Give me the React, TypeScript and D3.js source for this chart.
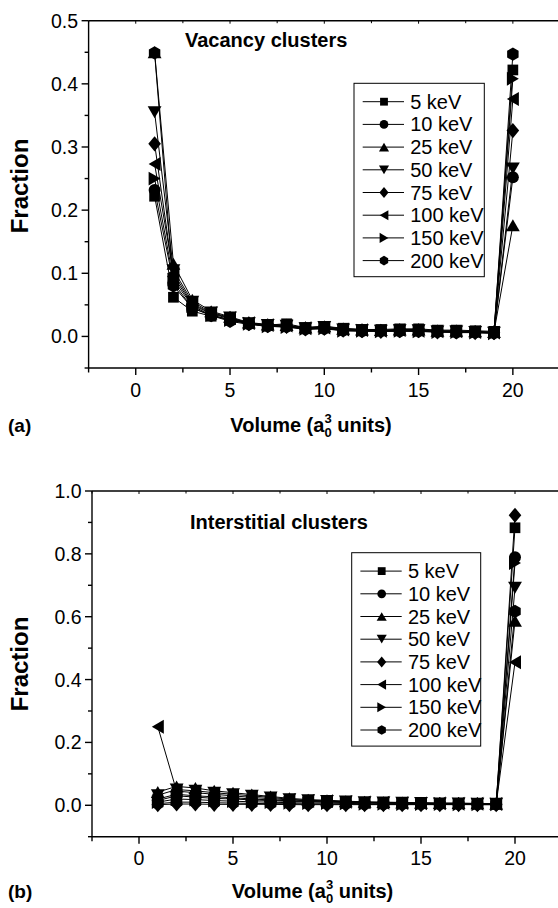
import React from "react";
import * as d3 from "d3";

const volumes = d3.range(1, 21);
const seriesNames = ["5 keV", "10 keV", "25 keV", "50 keV", "75 keV", "100 keV", "150 keV", "200 keV"];
const markerShapes = ["square", "circle", "triUp", "triDown", "diamond", "triLeft", "triRight", "hexagon"];

const vac5 = [0.222, 0.062, 0.040, 0.032, 0.027, 0.021, 0.018, 0.020, 0.014, 0.016, 0.013, 0.011, 0.011, 0.012, 0.012, 0.010, 0.010, 0.009, 0.008, 0.422];
const vac10 = [0.232, 0.085, 0.045, 0.034, 0.026, 0.020, 0.017, 0.016, 0.013, 0.014, 0.010, 0.010, 0.009, 0.010, 0.010, 0.008, 0.008, 0.007, 0.006, 0.252];
const vac25 = [0.450, 0.115, 0.058, 0.040, 0.031, 0.022, 0.019, 0.018, 0.014, 0.016, 0.012, 0.011, 0.010, 0.011, 0.011, 0.009, 0.009, 0.008, 0.007, 0.176];
const vac50 = [0.355, 0.105, 0.055, 0.038, 0.030, 0.021, 0.018, 0.017, 0.013, 0.015, 0.011, 0.010, 0.009, 0.010, 0.010, 0.008, 0.008, 0.007, 0.006, 0.266];
const vac75 = [0.305, 0.095, 0.050, 0.036, 0.028, 0.020, 0.017, 0.016, 0.012, 0.013, 0.010, 0.009, 0.008, 0.009, 0.009, 0.007, 0.007, 0.006, 0.006, 0.326];
const vac100 = [0.273, 0.100, 0.052, 0.037, 0.029, 0.021, 0.018, 0.017, 0.013, 0.014, 0.011, 0.010, 0.009, 0.010, 0.009, 0.008, 0.008, 0.007, 0.006, 0.376];
const vac150 = [0.250, 0.090, 0.048, 0.034, 0.026, 0.020, 0.016, 0.015, 0.012, 0.013, 0.009, 0.009, 0.008, 0.009, 0.008, 0.007, 0.007, 0.006, 0.005, 0.408];
const vac200 = [0.449, 0.080, 0.045, 0.033, 0.024, 0.019, 0.016, 0.015, 0.011, 0.012, 0.009, 0.008, 0.008, 0.008, 0.008, 0.007, 0.006, 0.006, 0.005, 0.447];

const int5 = [0.020, 0.035, 0.030, 0.027, 0.024, 0.020, 0.017, 0.014, 0.012, 0.011, 0.010, 0.009, 0.008, 0.007, 0.007, 0.006, 0.006, 0.005, 0.005, 0.883];
const int10 = [0.015, 0.030, 0.026, 0.022, 0.020, 0.017, 0.015, 0.012, 0.011, 0.010, 0.009, 0.008, 0.007, 0.006, 0.006, 0.005, 0.005, 0.005, 0.004, 0.789];
const int25 = [0.042, 0.060, 0.055, 0.046, 0.040, 0.034, 0.028, 0.022, 0.018, 0.016, 0.013, 0.011, 0.010, 0.009, 0.008, 0.007, 0.007, 0.006, 0.005, 0.587];
const int50 = [0.032, 0.050, 0.046, 0.040, 0.035, 0.030, 0.025, 0.019, 0.016, 0.014, 0.012, 0.010, 0.009, 0.008, 0.007, 0.006, 0.006, 0.005, 0.005, 0.692];
const int75 = [0.002, 0.004, 0.004, 0.003, 0.003, 0.003, 0.003, 0.002, 0.002, 0.002, 0.002, 0.002, 0.002, 0.002, 0.002, 0.002, 0.002, 0.002, 0.002, 0.923];
const int100 = [0.250, 0.045, 0.040, 0.035, 0.030, 0.025, 0.021, 0.017, 0.014, 0.013, 0.011, 0.009, 0.008, 0.007, 0.006, 0.006, 0.005, 0.005, 0.004, 0.455];
const int150 = [0.010, 0.020, 0.018, 0.015, 0.013, 0.011, 0.010, 0.008, 0.007, 0.007, 0.006, 0.005, 0.005, 0.004, 0.004, 0.004, 0.003, 0.003, 0.003, 0.771];
const int200 = [0.005, 0.010, 0.010, 0.008, 0.007, 0.006, 0.005, 0.005, 0.004, 0.004, 0.004, 0.003, 0.003, 0.003, 0.003, 0.003, 0.003, 0.002, 0.002, 0.617];

const vacSeries = [vac5, vac10, vac25, vac50, vac75, vac100, vac150, vac200];
const intSeries = [int5, int10, int25, int50, int75, int100, int150, int200];

const xMajorTicks = [0, 5, 10, 15, 20];
const xMinorTicks = [-2.5, 2.5, 7.5, 12.5, 17.5, 22.5];
const vacYMajor = [0, 0.1, 0.2, 0.3, 0.4, 0.5];
const vacYMinor = [-0.05, 0.05, 0.15, 0.25, 0.35, 0.45];
const intYMajor = [0, 0.2, 0.4, 0.6, 0.8, 1.0];
const intYMinor = [-0.1, 0.1, 0.3, 0.5, 0.7, 0.9];

const FONT = "'Liberation Sans', Arial, Helvetica, sans-serif";

function markerPath(shape: string, s: number): string {
  switch (shape) {
    case "square": {
      const h = s * 0.85;
      return `M${-h},${-h}H${h}V${h}H${-h}Z`;
    }
    case "circle": {
      const r = s * 0.95;
      return `M${r},0A${r},${r} 0 1,1 ${-r},0A${r},${r} 0 1,1 ${r},0Z`;
    }
    case "triUp": {
      const w = s * 1.1, h = s * 0.95;
      return `M0,${-h}L${w},${h}L${-w},${h}Z`;
    }
    case "triDown": {
      const w = s * 1.1, h = s * 0.95;
      return `M0,${h}L${w},${-h}L${-w},${-h}Z`;
    }
    case "triLeft": {
      const w = s * 1.1, h = s * 0.95;
      return `M${-h},0L${h},${-w}L${h},${w}Z`;
    }
    case "triRight": {
      const w = s * 1.1, h = s * 0.95;
      return `M${h},0L${-h},${-w}L${-h},${w}Z`;
    }
    case "diamond": {
      const w = s, h = s * 1.2;
      return `M0,${-h}L${w},0L0,${h}L${-w},0Z`;
    }
    case "hexagon": {
      const r = s * 1.05;
      const pts = d3.range(6).map((i) => {
        const a = (Math.PI / 3) * i + Math.PI / 6;
        return [r * Math.cos(a), r * Math.sin(a)];
      });
      return "M" + pts.map((p) => `${p[0].toFixed(2)},${p[1].toFixed(2)}`).join("L") + "Z";
    }
  }
  return "";
}

type PanelProps = {
  left: number;
  right: number;
  top: number;
  bottom: number;
  yDomain: [number, number];
  yMajor: number[];
  yMinor: number[];
  series: number[][];
  title: string;
  titleX: number;
  titleY: number;
  legendBox: { x: number; y: number; w: number; h: number };
  yLabelY: number;
  panelLabel: string;
  xLabelX: number;
  xLabelDy: number;
};

function Panel(p: PanelProps) {
  const x = d3.scaleLinear().domain([-2.5, 22.5]).range([p.left, p.right]);
  const y = d3.scaleLinear().domain(p.yDomain).range([p.bottom, p.top]);
  const line = d3
    .line<number>()
    .x((_, i) => x(volumes[i]))
    .y((d) => y(d));
  const axisW = 1.4;
  const rowH = 22.7;
  const lb = p.legendBox;
  return (
    <g>
      {p.series.map((s, k) => (
        <path key={"l" + k} d={line(s) || ""} fill="none" stroke="#000" strokeWidth={1} />
      ))}
      {p.series.map((s, k) => (
        <g key={"m" + k}>
          {s.map((v, i) => (
            <path
              key={i}
              d={markerPath(markerShapes[k], 6.3)}
              transform={`translate(${x(volumes[i])},${y(v)})`}
              fill="#000"
            />
          ))}
        </g>
      ))}
      <line x1={p.left} x2={p.left} y1={p.top} y2={p.bottom} stroke="#000" strokeWidth={axisW} />
      <line x1={p.left} x2={p.right} y1={p.bottom} y2={p.bottom} stroke="#000" strokeWidth={axisW} />
      <line x1={p.left} x2={p.right} y1={p.top} y2={p.top} stroke="#000" strokeWidth={axisW} />
      <line x1={p.right} x2={p.right} y1={p.top} y2={p.bottom} stroke="#000" strokeWidth={axisW} />
      {xMajorTicks.map((t) => (
        <g key={"xb" + t}>
          <line x1={x(t)} x2={x(t)} y1={p.bottom} y2={p.bottom + 7} stroke="#000" strokeWidth={axisW} />
          <line x1={x(t)} x2={x(t)} y1={p.top} y2={p.top + 3} stroke="#000" strokeWidth={1} />
          <text x={x(t)} y={p.bottom + 28.7} textAnchor="middle" fontSize={19.5} fontFamily={FONT}>
            {t}
          </text>
        </g>
      ))}
      {xMinorTicks.map((t) => (
        <g key={"xm" + t}>
          <line x1={x(t)} x2={x(t)} y1={p.bottom} y2={p.bottom + 4.5} stroke="#000" strokeWidth={axisW} />
          <line x1={x(t)} x2={x(t)} y1={p.top} y2={p.top + 2.5} stroke="#000" strokeWidth={1} />
        </g>
      ))}
      {p.yMajor.map((t) => (
        <g key={"ym" + t}>
          <line x1={p.left - 7} x2={p.left} y1={y(t)} y2={y(t)} stroke="#000" strokeWidth={axisW} />
          <text x={p.left - 10.5} y={y(t) + 7} textAnchor="end" fontSize={19.5} fontFamily={FONT}>
            {t.toFixed(1)}
          </text>
        </g>
      ))}
      {p.yMinor.map((t) => (
        <line key={"yn" + t} x1={p.left - 4} x2={p.left} y1={y(t)} y2={y(t)} stroke="#000" strokeWidth={axisW} />
      ))}
      <text x={p.titleX} y={p.titleY} fontSize={20} fontWeight="bold" fontFamily={FONT}>
        {p.title}
      </text>
      <rect x={lb.x} y={lb.y} width={lb.w} height={lb.h} fill="#fff" stroke="#000" strokeWidth={1} />
      {seriesNames.map((n, k) => {
        const cy = lb.y + 18.4 + k * rowH;
        const lx = lb.x + 8.7;
        return (
          <g key={"lg" + k}>
            <line x1={lx} x2={lx + 41.3} y1={cy} y2={cy} stroke="#000" strokeWidth={1} />
            <path d={markerPath(markerShapes[k], 4.6)} transform={`translate(${lx + 21.3},${cy})`} fill="#000" />
            <text x={lx + 47.5} y={cy + 7} fontSize={20} fontFamily={FONT}>
              {n}
            </text>
          </g>
        );
      })}
      <text
        transform={`translate(28,${p.yLabelY}) rotate(-90)`}
        textAnchor="middle"
        fontSize={24}
        fontWeight="bold"
        fontFamily={FONT}
      >
        Fraction
      </text>
      <text x={p.xLabelX} y={p.bottom + p.xLabelDy} textAnchor="middle" fontSize={20} fontWeight="bold" fontFamily={FONT}>
        <tspan>Volume (a</tspan>
        <tspan fontSize={13} dy={-9}>3</tspan>
        <tspan fontSize={13} dx={-7.2} dy={14}>0</tspan>
        <tspan dy={-5}> units)</tspan>
      </text>
      <text x={8} y={p.bottom + p.xLabelDy} fontSize={19} fontWeight="bold" fontFamily={FONT}>
        {p.panelLabel}
      </text>
    </g>
  );
}

export default function App() {
  return (
    <svg
      width={558}
      height={908}
      style={{ position: "absolute", left: 0, top: 0, background: "#fff" }}
      xmlns="http://www.w3.org/2000/svg"
    >
      <rect x={0} y={0} width={558} height={908} fill="#fff" />
      <Panel
        left={88.6}
        right={560}
        top={20.7}
        bottom={368}
        yDomain={[-0.05, 0.5]}
        yMajor={vacYMajor}
        yMinor={vacYMinor}
        series={vacSeries}
        title="Vacancy clusters"
        titleX={185}
        titleY={47}
        legendBox={{ x: 354, y: 83.3, w: 130.3, h: 193.4 }}
        yLabelY={186}
        panelLabel="(a)"
        xLabelX={311}
        xLabelDy={64}
      />
      <Panel
        left={92}
        right={562}
        top={491}
        bottom={836.7}
        yDomain={[-0.1, 1.0]}
        yMajor={intYMajor}
        yMinor={intYMinor}
        series={intSeries}
        title="Interstitial clusters"
        titleX={190}
        titleY={529}
        legendBox={{ x: 351.7, y: 552.7, w: 129, h: 193.4 }}
        yLabelY={664}
        panelLabel="(b)"
        xLabelX={312.5}
        xLabelDy={61}
      />
    </svg>
  );
}
